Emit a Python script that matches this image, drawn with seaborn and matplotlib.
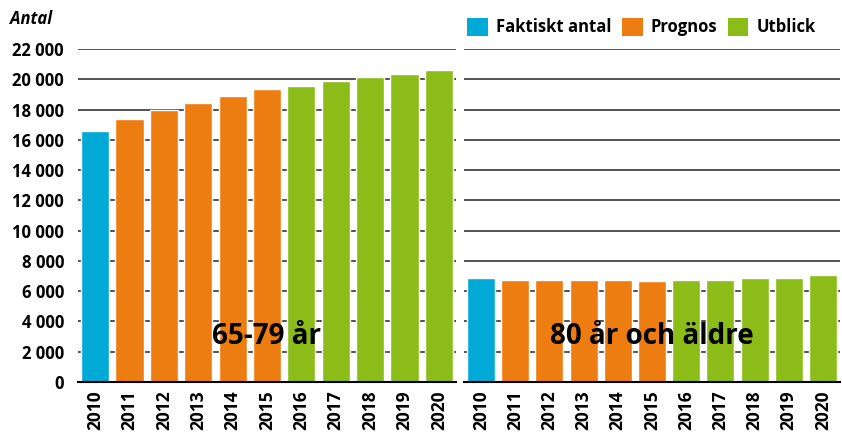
import matplotlib
matplotlib.use('Agg')
import matplotlib.pyplot as plt
import matplotlib.ticker as mticker
from matplotlib.patches import Patch
import numpy as np
import pandas as pd
import seaborn as sns

# %% data
years = [str(y) for y in range(2010, 2021)]
kind = ['Faktiskt antal'] + ['Prognos'] * 5 + ['Utblick'] * 5
antal_65_79 = [16600, 17400, 18000, 18400, 18900, 19350, 19550, 19900, 20150, 20350, 20600]
antal_80 = [6850, 6750, 6750, 6750, 6750, 6650, 6750, 6750, 6850, 6850, 7050]
panel_titles = ['65-79 år', '80 år och äldre']
colors = {'Faktiskt antal': '#00A9D6', 'Prognos': '#EE7D11', 'Utblick': '#8CBC18'}

# %% figure
sns.set_style('white')
plt.rcParams['font.family'] = ['Open Sans', 'DejaVu Sans']
plt.rcParams['font.weight'] = 'bold'
plt.rcParams['text.color'] = 'black'
plt.rcParams['xtick.color'] = 'black'
plt.rcParams['ytick.color'] = 'black'

fig = plt.figure(figsize=(8.42, 4.32), dpi=100)
ax1 = fig.add_axes([0.0926, 0.1157, 0.449, 0.7709])
ax2 = fig.add_axes([0.551, 0.1157, 0.4466, 0.7709])

for ax, vals, title in zip([ax1, ax2], [antal_65_79, antal_80], panel_titles):
    df = pd.DataFrame({'year': years, 'antal': vals, 'typ': kind})
    sns.barplot(data=df, x='year', y='antal', hue='typ', palette=colors,
                dodge=False, width=0.82, saturation=1, legend=False, ax=ax)
    ax.set_ylim(0, 22000)
    ax.set_xlim(-0.5, len(years) - 0.5)
    ax.yaxis.set_major_locator(mticker.MultipleLocator(2000))
    ax.grid(axis='y', color='#444444', linewidth=1.3)
    ax.set_axisbelow(True)
    for s in ['left', 'right', 'top']:
        ax.spines[s].set_visible(False)
    ax.spines['bottom'].set_color('black')
    ax.spines['bottom'].set_linewidth(1.5)
    ax.set_xlabel('')
    ax.set_ylabel('')
    ax.set_xticks(np.arange(len(years)))
    ax.set_xticklabels(years, rotation=90, fontsize=12.5, fontweight='bold')
    ax.tick_params(axis='x', which='major', length=0, pad=6)
    ax.set_xticks(np.arange(len(years) + 1) - 0.5, minor=True)
    ax.tick_params(axis='x', which='minor', length=6, width=1.2, color='#333333')
    ax.tick_params(axis='y', length=0)
    ax.text((len(years) - 1) / 2, 3000, title, ha='center', va='center',
            fontsize=20, fontweight='bold')

ax1.yaxis.set_major_formatter(mticker.FuncFormatter(lambda v, p: f'{int(v):,}'.replace(',', ' ')))
for lab in ax1.get_yticklabels():
    lab.set_fontsize(12)
    lab.set_fontweight('bold')
ax1.tick_params(axis='y', pad=10)
ax2.set_yticklabels([])

fig.text(0.012, 0.955, 'Antal', fontsize=12, fontweight='bold', style='italic', va='center')

handles = [Patch(facecolor=colors[k], edgecolor='none') for k in colors]
fig.legend(handles, list(colors), loc='center left', bbox_to_anchor=(0.537, 0.937),
           ncol=3, frameon=False, handlelength=1.25, handleheight=1.25,
           handletextpad=0.5, columnspacing=0.6, prop={'size': 12, 'weight': 'bold'})

fig.savefig('out.png', dpi=100)
